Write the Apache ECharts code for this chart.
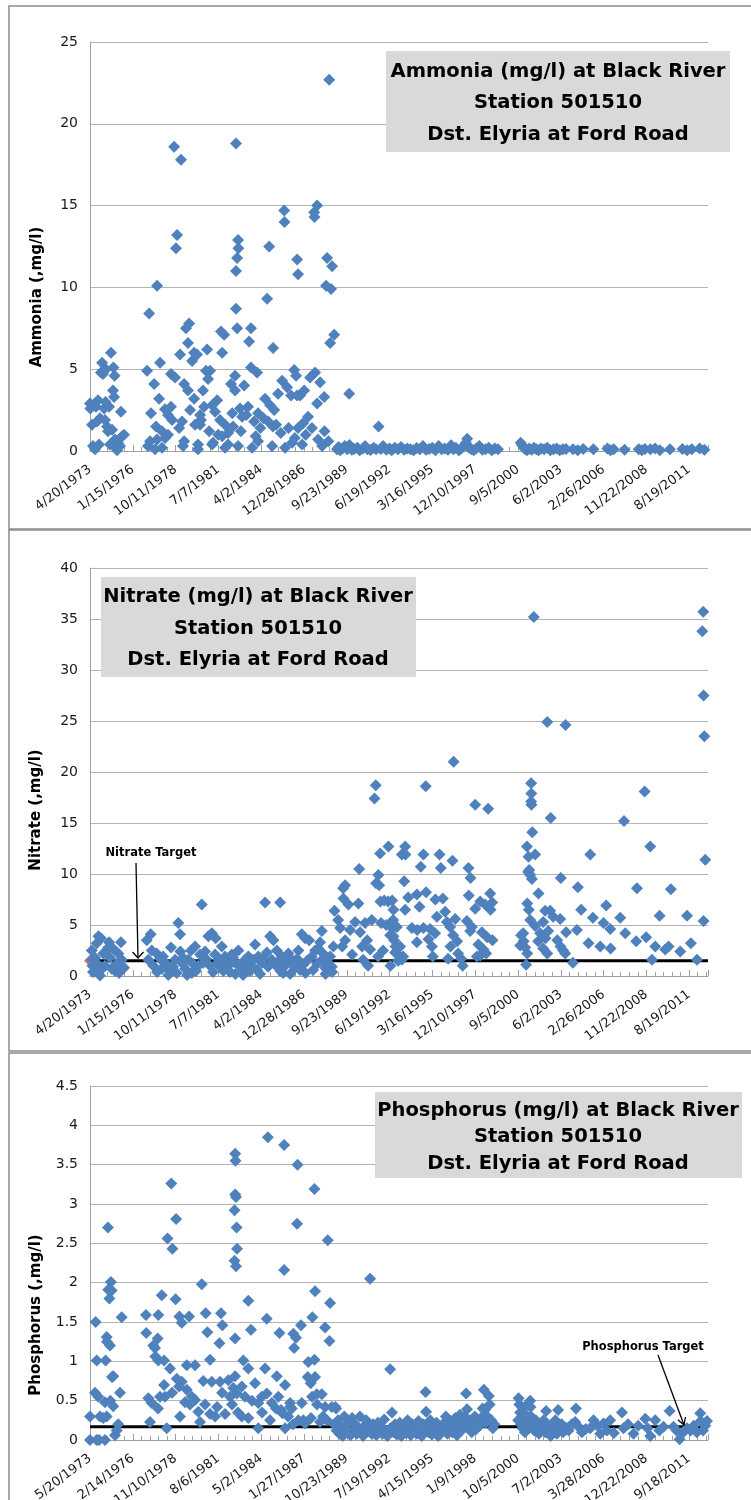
<!DOCTYPE html>
<html><head><meta charset="utf-8">
<script src="https://cdn.jsdelivr.net/npm/echarts/dist/echarts.min.js"></script>
<style>html,body{margin:0;padding:0;background:#fff}#c{width:751px;height:1500px}</style>
</head><body><div id="c"></div>
<script>
// ---------------- DATA (dates as decimal years, values in mg/l) ----------------
const ammoniaPoints = [
 [1973.30,2.9],[1973.32,2.6],[1973.43,1.6],[1973.49,0.3],[1973.62,0.1],[1973.68,2.7],[1973.75,1.8],[1973.81,3.1],[1973.88,0.4],[1973.94,2.0],
 [1974.00,4.8],[1974.07,5.4],[1974.13,4.7],[1974.20,2.6],[1974.26,1.9],[1974.29,3.0],[1974.32,5.0],[1974.39,1.5],[1974.45,1.2],[1974.52,2.7],
 [1974.58,0.4],[1974.64,6.0],[1974.71,1.3],[1974.77,3.7],[1974.80,5.1],[1974.84,3.3],[1974.87,4.6],[1974.90,0.7],[1974.96,0.2],[1975.03,0.05],
 [1975.09,0.5],[1975.22,0.3],[1975.28,2.4],[1975.35,0.9],[1975.48,1.0],
 [1978.68,18.6],[1979.12,17.8],[1982.64,18.8],[1985.72,14.7],[1985.74,14.0],[1987.83,15.0],[1987.64,14.6],[1987.66,14.3],[1988.60,22.7],
 [1978.87,13.2],[1978.80,12.4],[1982.77,12.9],[1982.79,12.4],[1982.71,11.8],[1982.64,11.0],[1984.76,12.5],[1986.55,11.7],[1986.61,10.8],
 [1988.47,11.8],[1988.79,11.3],[1977.59,10.1],[1988.40,10.1],[1988.72,9.9],[1984.63,9.3],
 [1977.08,8.4],[1982.64,8.7],[1979.64,7.8],[1979.44,7.5],[1982.71,7.5],[1981.68,7.3],[1981.88,7.1],[1983.60,7.5],[1983.48,6.7],[1985.01,6.3],
 [1988.92,7.1],[1988.66,6.6],[1979.57,6.6],[1980.79,6.2],[1981.75,6.0],[1979.06,5.9],[1979.96,6.0],[1980.15,5.9],[1979.83,5.5],
 [1977.78,5.4],[1976.95,4.9],[1978.48,4.7],[1978.74,4.5],[1980.72,4.9],[1980.98,4.9],[1980.85,4.4],[1982.58,4.6],[1982.32,4.1],[1983.16,4.0],
 [1982.58,3.7],[1983.60,5.1],[1983.99,4.8],[1986.36,4.95],[1986.48,4.6],[1987.70,4.8],[1987.38,4.5],[1988.02,4.2],[1977.40,4.1],[1979.32,4.1],
 [1979.57,3.7],[1979.96,3.2],[1977.72,3.2],[1980.53,3.7],[1989.88,3.5],[1988.28,3.3],[1987.83,2.9],
 [1984.50,3.2],[1984.82,2.8],[1985.08,2.5],[1981.43,3.1],[1981.11,2.8],[1978.48,2.7],[1978.10,2.55],[1977.20,2.3],[1980.60,2.7],[1980.34,2.2],
 [1982.90,2.6],[1983.41,2.7],[1984.05,2.3],[1983.03,2.1],[1987.25,2.1],[1986.93,1.7],[1986.61,1.4],[1979.19,1.8],[1978.55,1.9],[1977.52,1.5],
 [1977.91,1.2],[1978.29,1.0],[1977.59,0.7],[1977.14,0.6],[1980.02,1.6],[1980.34,1.6],[1980.92,1.2],[1981.17,0.5],[1980.21,0.4],[1981.62,1.9],
 [1981.94,1.6],[1981.75,0.9],[1982.13,0.4],[1979.32,0.6],
 [1985.59,4.3],[1985.33,3.5],[1985.91,3.9],[1986.16,3.4],[1986.55,3.4],[1987.00,3.7],[1986.74,3.4],
 [1977.01,0.3],[1977.46,0.1],[1977.91,0.2],[1978.10,0.8],[1979.25,0.3],[1980.21,0.1],[1981.11,0.4],[1981.94,0.2],[1982.13,1.1],[1982.77,0.3],
 [1983.67,0.2],[1984.05,0.6],[1984.95,0.3],[1985.78,0.2],[1986.23,0.5],[1986.87,0.4],[1987.89,0.7],[1988.15,0.3],
 [1978.29,2.2],[1979.00,1.4],[1979.70,2.5],[1980.40,1.9],[1981.30,2.4],[1982.45,1.5],[1982.95,1.2],[1983.30,2.2],[1983.80,1.8],[1984.20,1.4],
 [1984.40,2.0],[1985.20,1.6],[1985.50,1.1],[1986.00,1.4],[1986.40,0.8],[1987.10,1.0],[1987.50,1.4],[1988.30,1.2],[1988.55,0.6],[1983.90,0.9],
 [1982.40,2.3],[1985.00,1.5],[1984.70,1.8],[1981.50,1.0],
 [1989.10,0.1],[1989.20,0.25],[1989.30,0.05],[1989.45,0.15],[1989.60,0.3],[1989.75,0.1],[1989.90,0.37],[1990.05,0.08],[1990.20,0.12],[1990.40,0.2],
 [1990.55,0.05],[1990.75,0.15],[1990.90,0.3],[1991.05,0.1],[1991.25,0.06],[1991.45,0.2],[1991.60,0.1],[1991.76,1.5],[1991.90,0.12],[1992.05,0.3],
 [1992.25,0.08],[1992.45,0.15],[1992.60,0.05],[1992.80,0.2],[1993.00,0.1],[1993.20,0.25],[1993.40,0.07],[1993.60,0.15],[1993.80,0.1],[1994.00,0.05],
 [1994.20,0.18],[1994.40,0.1],[1994.60,0.3],[1994.80,0.08],[1995.00,0.12],[1995.20,0.2],[1995.40,0.05],[1995.60,0.3],[1995.80,0.1],[1996.00,0.15],
 [1996.20,0.07],[1996.40,0.35],[1996.55,0.1],[1996.70,0.2],[1996.90,0.05],[1997.05,0.15],[1997.20,0.3],[1997.35,0.5],[1997.43,0.75],[1997.55,0.2],
 [1997.70,0.1],[1997.85,0.05],[1998.00,0.15],[1998.20,0.3],[1998.40,0.08],[1998.60,0.1],[1998.80,0.2],[1999.00,0.05],[1999.20,0.15],[1999.40,0.1],
 [2000.85,0.5],[2000.95,0.35],[2001.05,0.2],[2001.15,0.1],[2001.25,0.05],[2001.40,0.15],[2001.55,0.08],[2001.70,0.2],[2001.85,0.1],[2002.00,0.05],
 [2002.15,0.15],[2002.35,0.1],[2002.55,0.2],[2002.75,0.05],[2002.95,0.1],[2003.15,0.15],[2003.35,0.05],[2003.55,0.1],[2003.75,0.12],
 [2004.20,0.1],[2004.50,0.05],[2004.85,0.12],[2005.50,0.1],[2006.40,0.15],[2006.60,0.05],[2006.80,0.1],[2007.50,0.08],[2008.40,0.1],[2008.60,0.05],
 [2008.80,0.12],[2009.15,0.1],[2009.45,0.15],[2009.75,0.05],[2010.40,0.1],[2011.20,0.12],[2011.50,0.05],[2011.80,0.1],[2012.30,0.15],[2012.60,0.08]
];

const nitratePoints = [
 [1973.42,1.6],[1973.41,2.5],[1973.45,1.0],[1973.62,1.8],[1973.73,3.2],[1973.83,0.5],[1973.84,3.9],[1973.94,0.05],[1974.00,3.7],[1974.15,2.2],
 [1974.26,1.0],[1974.47,2.8],[1974.52,3.3],[1974.58,1.8],[1974.69,0.7],[1974.90,0.5],[1975.01,1.2],[1975.11,2.2],[1975.28,3.3],[1975.33,1.6],
 [1975.48,0.8],[1973.49,0.4],[1974.13,0.8],[1974.77,2.7],[1974.32,2.4],[1975.16,0.3],[1973.75,1.2],
 [1976.93,3.5],[1977.03,1.6],[1977.18,4.1],[1977.25,2.5],[1977.35,1.0],[1977.57,2.2],[1977.78,1.7],[1977.89,0.7],[1978.10,1.3],[1978.31,0.1],
 [1978.42,0.5],[1978.48,2.8],[1978.74,1.6],[1978.85,0.3],[1978.95,5.2],[1979.06,4.1],[1979.08,2.4],[1979.17,1.3],[1979.38,0.7],[1979.59,1.6],
 [1979.76,2.5],[1979.81,0.3],[1980.02,2.9],[1980.23,1.0],[1980.34,2.1],[1980.45,7.0],[1980.55,1.3],[1980.66,2.4],[1980.87,3.9],[1980.98,1.0],
 [1981.09,4.2],[1981.34,3.7],[1981.30,2.1],[1981.51,1.6],[1981.73,2.9],[1981.83,0.5],[1981.94,1.9],[1982.15,1.0],[1982.37,2.1],[1982.58,1.3],
 [1982.60,0.2],[1982.79,2.5],[1983.01,0.7],[1983.22,1.6],[1983.43,1.9],[1983.65,1.0],[1983.86,3.1],[1984.07,1.9],[1984.29,1.3],[1984.50,7.2],
 [1984.61,2.3],[1984.82,3.9],[1984.93,1.6],[1985.03,3.5],[1985.25,2.5],[1985.46,7.2],[1985.48,0.5],[1985.57,1.9],[1985.78,1.0],[1985.99,2.2],
 [1986.21,1.6],[1986.42,0.8],[1986.63,2.5],[1986.85,4.1],[1987.06,3.7],[1987.08,0.3],[1987.32,3.5],[1987.49,1.9],[1987.70,2.5],[1987.91,2.7],
 [1988.02,3.3],[1988.13,4.4],[1988.15,1.6],[1988.34,0.8],[1988.36,0.2],[1988.66,1.9],[1988.77,0.9],[1988.87,2.9],[1988.94,6.4],
 [1977.59,0.4],[1977.97,1.9],[1978.23,1.1],[1978.61,0.9],[1979.25,1.8],[1979.51,0.1],[1979.89,1.2],[1980.08,0.5],[1980.72,1.7],[1981.17,0.4],
 [1981.43,1.2],[1981.62,0.9],[1982.00,1.4],[1982.26,0.4],[1982.45,1.8],[1982.84,1.1],[1983.09,0.1],[1983.35,1.2],[1983.54,0.5],[1983.73,1.6],
 [1983.99,0.6],[1984.18,0.2],[1984.37,1.7],[1984.69,0.9],[1985.14,1.1],[1985.33,1.4],[1985.65,0.3],[1985.91,1.5],[1986.10,0.2],[1986.29,1.2],
 [1986.55,1.7],[1986.74,0.6],[1986.93,1.1],[1987.19,1.5],[1987.57,0.6],[1987.83,1.2],[1988.21,2.2],[1988.53,1.3],[1988.79,0.4],
 [1989.17,5.5],[1989.51,7.6],[1989.49,8.6],[1989.62,8.9],[1989.83,7.0],[1989.30,4.7],[1989.43,2.9],[1989.62,3.5],[1989.94,4.5],[1990.07,2.1],
 [1990.26,5.3],[1990.47,7.1],[1990.52,10.5],[1990.58,4.3],[1990.71,2.9],[1990.77,1.6],[1990.90,5.2],[1991.03,3.5],[1991.09,1.0],[1991.22,2.6],
 [1991.33,5.5],[1991.50,17.4],[1991.58,18.7],[1991.60,9.1],[1991.75,9.9],[1991.73,1.9],[1991.80,8.9],[1991.86,12.0],[1991.88,7.3],[1991.92,5.2],
 [1992.05,2.5],[1992.12,7.4],[1992.25,5.0],[1992.39,12.7],[1992.37,7.3],[1992.50,4.0],[1992.52,1.0],[1992.63,7.4],[1992.69,5.5],[1992.76,3.5],
 [1992.82,2.3],[1992.93,4.8],[1993.01,1.5],[1993.14,2.9],[1993.25,11.9],[1993.33,1.9],[1993.40,9.3],[1993.46,12.7],[1993.48,11.9],[1993.46,6.5],
 [1992.71,6.5],[1992.61,5.3],[1992.63,4.7],[1992.71,3.9],[1992.84,2.9],[1992.93,2.2],[1993.25,1.6],
 [1993.65,7.7],[1994.21,8.0],[1994.80,8.2],[1994.38,6.8],[1993.89,4.7],[1994.23,4.5],[1994.63,4.7],[1995.06,4.6],[1995.38,4.2],[1994.21,3.3],
 [1994.95,3.6],[1995.17,2.9],[1994.63,11.9],[1994.46,10.7],[1994.78,18.6],[1995.23,1.9],[1995.40,7.5],[1995.87,7.6],[1995.49,5.8],[1996.02,6.3],
 [1996.13,5.3],[1996.66,5.6],[1995.66,11.9],[1995.74,10.6],[1996.49,11.3],[1996.34,4.8],[1996.53,4.0],[1996.79,3.4],[1996.36,2.9],[1996.85,2.2],
 [1996.21,1.7],[1996.56,21.0],[1997.04,1.7],[1997.14,1.0],[1997.41,5.4],[1997.73,4.8],[1997.62,4.4],[1998.37,4.3],[1998.15,3.1],[1998.47,2.6],
 [1998.26,2.0],[1998.05,1.9],[1997.51,10.6],[1997.64,9.6],[1997.53,7.9],[1997.94,6.6],[1998.26,7.3],[1998.90,8.1],[1998.92,6.5],[1997.94,16.8],
 [1998.77,16.4],[1998.58,7.0],[1999.03,7.2],[1998.71,3.8],[1999.05,3.5],[1998.64,2.2],
 [2001.01,4.2],[2001.04,3.4],[2001.14,2.8],[2001.27,2.2],[2001.20,1.1],[2001.25,12.7],[2001.35,11.7],[2001.78,11.9],[2001.33,10.2],[2001.46,9.9],
 [2001.57,9.5],[2001.27,7.1],[2001.37,6.5],[2001.46,5.5],[2001.99,8.1],[2001.52,18.9],[2001.53,17.9],[2001.52,17.1],[2001.54,16.8],[2001.59,14.1],
 [2001.69,35.2],[2001.40,10.4],[2000.82,3.0],[2000.88,4.0],[2001.78,4.9],
 [2002.42,6.4],[2002.74,6.4],[2002.93,5.8],[2003.38,5.6],[2002.29,5.3],[2002.10,4.2],[2002.44,3.7],[2001.97,3.4],[2002.29,2.7],[2002.55,2.2],
 [2002.61,4.4],[2003.19,3.5],[2003.40,2.9],[2003.57,2.5],[2003.70,2.2],[2003.76,4.3],[2004.45,4.5],[2004.19,1.3],[2003.42,9.6],[2004.51,8.7],
 [2004.72,6.5],[2005.30,11.9],[2005.47,5.7],[2005.19,3.2],[2006.32,6.9],[2006.15,5.2],[2006.58,4.6],[2005.94,2.9],[2006.60,2.7],[2007.22,5.7],
 [2007.54,4.2],[2008.29,8.6],[2008.24,3.4],[2008.88,3.8],[2009.46,2.9],[2009.25,1.6],[2009.14,12.7],[2009.74,5.9],[2010.46,8.5],[2010.31,2.9],
 [2010.10,2.6],[2011.06,2.4],[2011.49,5.9],[2011.74,3.2],[2012.13,1.6],[2012.66,11.4],[2012.55,5.4],[2002.55,24.9],[2003.72,24.6],[2002.77,15.5],
 [2007.46,15.2],[2008.78,18.1],[2012.53,35.7],[2012.47,33.8],[2012.55,27.5],[2012.60,23.5],[2012.84,16.6]
];

const phosphorusPoints = [
 [1974.53,2.70],[1978.58,3.26],[1978.89,2.81],[1978.34,2.56],[1978.65,2.43],[1982.67,3.64],[1982.69,3.55],[1982.67,3.12],[1982.72,3.09],[1982.63,2.92],
 [1982.76,2.70],[1982.79,2.43],[1982.63,2.28],[1982.72,2.21],[1984.76,3.85],[1985.80,3.75],[1986.66,3.50],[1987.74,3.19],[1986.63,2.75],[1988.59,2.54],
 [1985.80,2.16],[1991.30,2.05],[1974.72,2.01],[1974.55,1.91],[1974.77,1.90],[1974.62,1.80],[1980.53,1.98],[1977.97,1.84],[1978.86,1.79],[1987.78,1.89],
 [1988.74,1.74],[1983.51,1.77],[1973.74,1.50],[1975.41,1.56],[1976.96,1.59],[1977.75,1.59],[1979.10,1.57],[1979.72,1.57],[1979.25,1.49],[1980.78,1.61],
 [1981.76,1.61],[1981.85,1.46],[1984.69,1.54],[1987.61,1.56],[1988.42,1.43],[1988.70,1.26],[1976.98,1.36],[1977.71,1.29],[1977.43,1.20],[1977.54,1.17],
 [1974.45,1.31],[1974.66,1.20],[1980.89,1.37],[1982.66,1.29],[1983.68,1.40],[1985.50,1.36],[1986.39,1.35],[1986.56,1.30],[1986.88,1.46],[1986.44,1.17],
 [1981.66,1.23],[1973.81,1.01],[1974.38,1.01],[1977.56,1.06],[1977.75,1.01],[1978.12,1.01],[1978.50,0.91],[1979.57,0.95],[1980.10,0.95],[1981.06,1.02],
 [1983.19,1.01],[1983.51,0.91],[1984.58,0.91],[1987.35,0.99],[1987.74,1.02],[1974.87,0.81],[1975.30,0.60],[1978.93,0.78],[1979.25,0.74],[1979.08,0.68],
 [1979.57,0.64],[1978.12,0.70],[1977.11,0.53],[1977.33,0.47],[1978.18,0.55],[1977.86,0.55],[1979.46,0.48],[1979.89,0.55],[1980.10,0.51],[1980.63,0.75],
 [1981.17,0.74],[1981.70,0.74],[1982.23,0.76],[1982.66,0.81],[1982.55,0.66],[1982.77,0.59],[1983.09,0.68],[1983.94,0.72],[1984.37,0.55],[1984.15,0.47],
 [1984.69,0.59],[1985.01,0.47],[1985.33,0.81],[1985.43,0.55],[1985.86,0.70],[1985.60,0.38],[1986.18,0.47],[1986.29,0.40],[1986.93,0.47],[1987.03,0.25],
 [1987.31,0.80],[1987.50,0.72],[1987.78,0.80],[1987.89,0.58],[1988.21,0.58],[1988.42,0.42],[1988.85,0.42],[1989.12,0.40],
 [1973.70,0.60],[1973.91,0.55],[1974.34,0.48],[1974.68,0.50],[1974.87,0.43],[1973.38,0.30],[1974.02,0.30],[1974.23,0.28],[1974.45,0.30],[1975.19,0.20],
 [1975.09,0.12],[1973.38,0.00],[1973.81,0.00],[1973.96,0.00],[1974.34,0.00],[1974.98,0.06],[1977.22,0.23],[1978.29,0.15],[1980.31,0.36],[1980.42,0.23],
 [1981.06,0.33],[1981.38,0.30],[1982.02,0.33],[1983.09,0.30],[1983.51,0.28],[1984.15,0.15],[1985.69,0.34],[1985.86,0.15],[1986.18,0.42],[1986.71,0.25],
 [1987.14,0.21],[1988.10,0.23],[1974.47,1.25],[1974.79,0.80],
 [1984.39,0.35],[1984.90,0.25],[1985.28,0.40],[1986.05,0.30],[1986.37,0.20],[1987.52,0.28],[1987.91,0.45],[1988.29,0.30],[1988.54,0.25],[1987.59,0.55],
 [1979.14,0.30],[1979.78,0.45],[1980.74,0.45],[1981.51,0.42],[1982.47,0.45],[1982.85,0.35],[1983.75,0.50],[1983.30,0.55],[1982.34,0.55],[1981.83,0.60],
 [1978.63,0.60],[1977.73,0.40],
 [1989.00,0.20],[1989.08,0.42],[1989.15,0.12],[1989.25,0.25],[1989.35,0.08],[1989.45,0.18],[1989.55,0.05],[1989.65,0.30],[1989.75,0.15],[1989.85,0.10],
 [1989.95,0.22],[1990.05,0.06],[1990.15,0.28],[1990.25,0.12],[1990.35,0.20],[1990.45,0.08],[1990.55,0.15],[1990.65,0.30],[1990.75,0.10],[1990.85,0.05],
 [1990.95,0.18],[1991.05,0.25],[1991.15,0.12],[1991.40,0.08],[1991.50,0.20],[1991.60,0.14],[1991.70,0.06],[1991.80,0.22],[1991.90,0.10],[1992.00,0.17],
 [1992.10,0.08],[1992.20,0.26],[1992.30,0.12],[1992.40,0.05],[1992.58,0.90],[1992.60,0.15],[1992.70,0.35],[1992.80,0.10],[1992.90,0.20],[1993.00,0.07],
 [1993.10,0.14],[1993.20,0.22],[1993.30,0.05],[1993.40,0.12],[1993.50,0.18],[1993.60,0.09],[1993.70,0.25],[1993.80,0.13],[1993.90,0.06],[1994.00,0.20],
 [1994.10,0.11],[1994.20,0.16],[1994.30,0.08],[1994.40,0.24],[1994.50,0.14],[1994.60,0.05],[1994.70,0.20],[1994.85,0.61],[1994.88,0.36],[1994.95,0.15],
 [1995.05,0.10],[1995.15,0.25],[1995.25,0.07],[1995.35,0.18],[1995.45,0.12],[1995.55,0.22],[1995.65,0.05],[1995.75,0.15],[1995.85,0.09],[1995.95,0.20],
 [1996.05,0.13],[1996.15,0.30],[1996.25,0.08],[1996.35,0.17],[1996.45,0.24],[1996.55,0.10],[1996.65,0.15],[1996.75,0.28],[1996.85,0.06],[1996.95,0.20],
 [1997.05,0.32],[1997.15,0.12],[1997.25,0.22],[1997.35,0.30],[1997.44,0.59],[1997.50,0.39],[1997.60,0.15],[1997.70,0.25],[1997.80,0.10],[1997.90,0.20],
 [1998.00,0.30],[1998.10,0.14],[1998.20,0.25],[1998.30,0.18],[1998.40,0.28],[1998.50,0.40],[1998.58,0.64],[1998.65,0.38],[1998.70,0.22],[1998.80,0.30],
 [1998.90,0.56],[1998.95,0.45],[1999.05,0.25],[1999.15,0.15],[1999.25,0.20],
 [2000.77,0.25],[2000.80,0.53],[2000.85,0.45],[2000.90,0.35],[2000.95,0.20],[2001.00,0.30],[2001.05,0.15],[2001.10,0.40],[2001.15,0.25],[2001.20,0.10],
 [2001.25,0.32],[2001.30,0.20],[2001.35,0.45],[2001.40,0.28],[2001.45,0.15],[2001.54,0.50],[2001.56,0.42],[2001.60,0.30],[2001.65,0.18],[2001.70,0.22],
 [2001.80,0.12],[2001.90,0.25],[2002.00,0.18],[2002.10,0.08],[2002.20,0.20],[2002.30,0.14],[2002.40,0.25],[2002.50,0.10],[2002.56,0.37],[2002.65,0.20],
 [2002.75,0.15],[2002.85,0.05],[2002.95,0.18],[2003.05,0.12],[2003.15,0.25],[2003.25,0.08],[2003.33,0.38],[2003.45,0.15],[2003.55,0.20],[2003.65,0.10],
 [2003.80,0.16],[2004.00,0.12],[2004.20,0.20],[2004.42,0.23],[2004.47,0.40],[2004.63,0.17],[2004.85,0.10],[2005.10,0.14],[2005.38,0.15],[2005.59,0.25],
 [2005.85,0.18],[2006.02,0.08],[2006.23,0.21],[2006.45,0.12],[2006.66,0.25],[2006.90,0.09],[2007.41,0.35],[2007.51,0.15],[2007.80,0.20],[2008.15,0.08],
 [2008.45,0.18],[2008.90,0.27],[2009.05,0.15],[2009.22,0.05],[2009.54,0.25],[2009.80,0.12],[2010.07,0.17],[2010.46,0.37],[2010.71,0.17],[2010.90,0.12],
 [2011.10,0.01],[2011.35,0.10],[2011.57,0.15],[2011.80,0.12],[2012.00,0.18],[2012.20,0.10],[2012.42,0.34],[2012.45,0.24],[2012.60,0.12],[2012.74,0.18],
 [2012.85,0.24]
];

const nitrateTarget = 1.5;
const phosphorusTarget = 0.17;
const ammoniaAxisStart = [1973, 4, 20];     // 4/20/1973
const nitrateAxisStart = [1973, 4, 20];     // 4/20/1973
const phosphorusAxisStart = [1973, 5, 20];  // 5/20/1973
const dateTickDays = 1000;
const dateSpanDays = 14440;
const yAxisMax = [25, 40, 4.5];
const yAxisStep = [5, 5, 0.5];
const yAxisTitles = ['Ammonia (,mg/l)', 'Nitrate (,mg/l)', 'Phosphorus (,mg/l)'];
const boxTitles = [
  ['Ammonia (mg/l) at Black River', 'Station 501510', 'Dst. Elyria at Ford Road'],
  ['Nitrate (mg/l) at Black River', 'Station 501510', 'Dst. Elyria at Ford Road'],
  ['Phosphorus (mg/l) at Black River', 'Station 501510', 'Dst. Elyria at Ford Road']
];
const targetLabels = ['Nitrate Target', 'Phosphorus Target'];

// ---------------- helpers ----------------
function utc(a){ return Date.UTC(a[0], a[1]-1, a[2]); }
function yearToDays(yr, startMs){
  const y = Math.floor(yr);
  const a = Date.UTC(y,0,1), b = Date.UTC(y+1,0,1);
  return (a + (yr - y)*(b - a) - startMs)/86400000;
}
function dateFormatter(startMs){
  return function(v){
    if (Math.abs(v/dateTickDays - Math.round(v/dateTickDays)) > 1e-6) return '';
    const d = new Date(startMs + Math.round(v)*86400000);
    return (d.getUTCMonth()+1)+'/'+d.getUTCDate()+'/'+d.getUTCFullYear();
  };
}

const starts = [utc(ammoniaAxisStart), utc(nitrateAxisStart), utc(phosphorusAxisStart)];
const pointSets = [ammoniaPoints, nitratePoints, phosphorusPoints];
const gridRects = [
  {left:90, top:42, width:618, height:409},
  {left:90, top:568, width:618, height:408},
  {left:90, top:1086, width:618, height:354}
];

const BLUE = '#4F81BD';
const GRID = '#B3B3B3';
const AXIS = '#A0A0A0';
const LABEL = '#1a1a1a';

const grid = [], xAxis = [], yAxis = [], series = [];
for (let i=0;i<3;i++){
  grid.push(Object.assign({containLabel:false, outerBoundsMode:'none'}, gridRects[i]));
  xAxis.push({
    type:'value', gridIndex:i, min:0, max:dateSpanDays, interval:dateTickDays,
    axisLine:{show:true, onZero:false, lineStyle:{color:AXIS, width:1}},
    axisTick:{show:true, inside:true, length:6, lineStyle:{color:AXIS}},
    minorTick:{show:true, splitNumber:5, length:4, lineStyle:{color:AXIS}},
    splitLine:{show:false}, minorSplitLine:{show:false},
    axisLabel:{show:true, rotate:37, margin:17, showMinLabel:true, showMaxLabel:false,
      fontFamily:'DejaVu Sans', fontSize:13, color:LABEL, formatter:dateFormatter(starts[i])}
  });
  yAxis.push({
    type:'value', gridIndex:i, min:0, max:yAxisMax[i], interval:yAxisStep[i],
    axisLine:{show:true, lineStyle:{color:AXIS, width:1}},
    axisTick:{show:false},
    splitLine:{show:true, lineStyle:{color:GRID, width:1}},
    axisLabel:{fontFamily:'DejaVu Sans', fontSize:14, color:LABEL, margin:12}
  });
  series.push({
    type:'scatter', xAxisIndex:i, yAxisIndex:i, z:5,
    symbol:'diamond', symbolSize:12, itemStyle:{color:BLUE, opacity:1},
    data: pointSets[i].map(p => [yearToDays(p[0], starts[i]), p[1]])
  });
}
// target lines
const targets = [[1, nitrateTarget], [2, phosphorusTarget]];
targets.forEach(([gi, val]) => {
  series.push({
    type:'line', xAxisIndex:gi, yAxisIndex:gi, z:3, symbol:'none', silent:true,
    lineStyle:{color:'#000', width:3}, data:[[0,val],[dateSpanDays,val]]
  });
});
series.push({
  type:'scatter', xAxisIndex:1, yAxisIndex:1, z:4, symbol:'diamond', symbolSize:12,
  itemStyle:{color:'#C0504D'}, data:[[0, nitrateTarget]]
});

// graphics: panel borders, title boxes, axis titles, annotations
const graphic = [];
[[9,6,760,523],[9,530,760,521],[9,1053,760,460]].forEach(r => graphic.push({
  type:'rect', shape:{x:r[0],y:r[1],width:r[2],height:r[3]},
  style:{fill:'none', stroke:'#8C8C8C', lineWidth:1.5}, z:0
}));
const boxes = [
  {x:386, y:51, w:344, h:101, cx:558, lines:[72,103,135]},
  {x:101, y:577, w:315, h:100, cx:258, lines:[597,629,660]},
  {x:375, y:1092, w:367, h:86, cx:558, lines:[1111,1137,1164]}
];
boxes.forEach((b, i) => {
  graphic.push({type:'rect', shape:{x:b.x,y:b.y,width:b.w,height:b.h}, style:{fill:'#D9D9D9'}, z:10});
  b.lines.forEach((ly, k) => graphic.push({
    type:'text', x:b.cx, y:ly, z:11,
    style:{text:boxTitles[i][k], fill:'#000', font:'bold 19.5px "DejaVu Sans"', textAlign:'center', textVerticalAlign:'middle'}
  }));
});
[[37,297],[36,810],[36,1315]].forEach((p, i) => graphic.push({
  type:'text', x:p[0], y:p[1], rotation:Math.PI/2, z:11,
  style:{text:yAxisTitles[i], fill:'#000', font:'bold 15px "DejaVu Sans"', textAlign:'center', textVerticalAlign:'middle'}
}));
// Nitrate target annotation
graphic.push({type:'text', x:151, y:853, z:11,
  style:{text:targetLabels[0], fill:'#000', font:'bold 11.5px "DejaVu Sans"', textAlign:'center', textVerticalAlign:'middle'}});
graphic.push({type:'line', shape:{x1:136,y1:863,x2:138,y2:958}, style:{stroke:'#000', lineWidth:1.3}, z:11});
graphic.push({type:'polyline', shape:{points:[[132.5,952],[138,958],[143.5,952]]}, style:{stroke:'#000', lineWidth:1.3, fill:'none'}, z:11});
// Phosphorus target annotation
graphic.push({type:'text', x:643, y:1347, z:11,
  style:{text:targetLabels[1], fill:'#000', font:'bold 11.5px "DejaVu Sans"', textAlign:'center', textVerticalAlign:'middle'}});
graphic.push({type:'line', shape:{x1:658,y1:1355,x2:684,y2:1425}, style:{stroke:'#000', lineWidth:1.3}, z:11});
graphic.push({type:'polyline', shape:{points:[[677.9,1419.8],[684,1425],[685.4,1417]]}, style:{stroke:'#000', lineWidth:1.3, fill:'none'}, z:11});

const chart = echarts.init(document.getElementById('c'), null, {renderer:'canvas'});
chart.setOption({
  animation:false, backgroundColor:'#fff',
  grid, xAxis, yAxis, series, graphic,
  tooltip:{show:false}, legend:{show:false}
});
</script>
</body></html>
